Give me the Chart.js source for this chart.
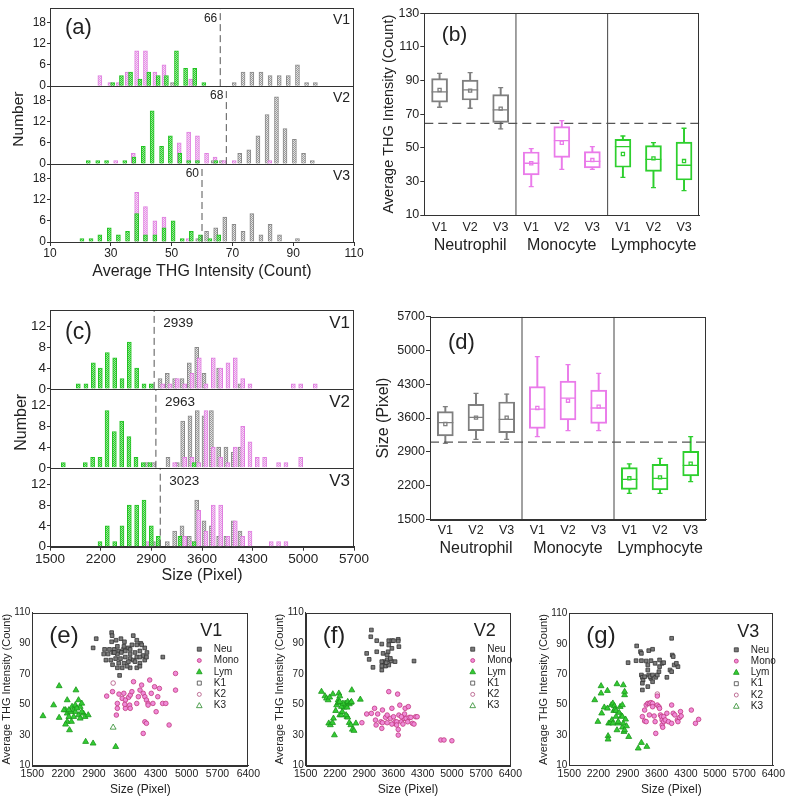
<!DOCTYPE html>
<html>
<head>
<meta charset="utf-8">
<script src="https://cdn.jsdelivr.net/npm/chart.js@4.4.1/dist/chart.umd.min.js"></script>
<style>
  body { margin: 0; background: #fff; width: 787px; height: 797px; position: relative; overflow: hidden; }
  canvas { position: absolute; }
</style>
</head>
<body>
<canvas id="ca" width="380" height="285" style="left:0;top:0"></canvas>
<canvas id="cb" width="407" height="280" style="left:380px;top:0"></canvas>
<canvas id="cc" width="380" height="300" style="left:0;top:290px"></canvas>
<canvas id="cd" width="415" height="290" style="left:372px;top:290px"></canvas>
<canvas id="ce" width="262" height="207" style="left:0;top:590px"></canvas>
<canvas id="cf" width="262" height="207" style="left:262px;top:590px"></canvas>
<canvas id="cg" width="263" height="207" style="left:524px;top:590px"></canvas>
<script>
// (a) THG histograms: [bin centre, count]
const thgV1Green = [[30.6,1],[33.5,3],[36.5,4],[39.6,2],[42.5,4],[45.6,3],[48.3,3],[51.6,10],[54.6,5],[57.6,5],[60.6,1]];
const thgV1Pink = [[26.4,3],[29.7,1],[32.5,1],[35.4,4],[38.5,10],[41.4,10],[44.5,4],[47.5,6],[56.3,2]];
const thgV1Gray = [[50.3,1],[70.6,1],[73.5,4],[76.4,4],[79.4,4],[82.4,3],[85.4,3],[88.4,3],[91.4,6],[94.4,1],[97.3,1]];
const thgV2Green = [[22.6,1],[25.7,1],[28.6,1],[34.6,1],[37.6,2],[40.7,5],[43.6,15],[46.7,5],[49.6,8],[52.7,3],[55.6,1],[58.5,1],[64.5,1]];
const thgV2Pink = [[31.6,1],[37.4,3],[52.5,6],[55.6,9],[58.5,8],[61.5,3],[64.3,2],[67.3,1],[70.6,1],[82.3,1]];
const thgV2Gray = [[63.7,1],[66.4,1],[72.4,3],[75.4,4],[78.4,8],[81.4,14],[84.5,19],[87.3,10],[90.4,7],[93.4,3],[96.3,1]];
const thgV3Green = [[20.5,1],[23.5,1],[26.4,2],[29.5,4],[32.5,2],[35.5,3],[38.5,8],[41.4,2],[44.5,2],[47.5,4],[50.5,6],[53.5,1],[56.5,3],[59.5,2],[62.6,1],[65.5,2]];
const thgV3Pink = [[38.5,14],[41.4,10],[44.5,6],[47.5,7],[55.5,1]];
const thgV3Gray = [[58.6,1],[61.5,3],[64.5,4],[67.5,7],[70.5,5],[73.5,3],[76.4,8],[79.4,2],[82.4,5],[85.5,2],[91.4,1]];
const thgCuts = [66, 68, 60];

// (c) size histograms
const sizeV1Green = [[1891,1],[1997,1],[2099,5],[2195,4],[2292,7],[2394,6],[2495,2],[2596,9],[2697,4],[2799,1],[2900,1]];
const sizeV1Pink = [[3057,1],[3158,1],[3259,2],[3361,1],[3462,3],[3563,6],[3655,1],[3756,6],[3858,4],[3959,5],[4060,6],[4162,2],[4263,1],[4862,1],[4963,1],[5165,1]];
const sizeV1Gray = [[3020,2],[3121,3],[3222,2],[3324,2],[3425,5],[3527,8],[3628,3],[3830,4],[4125,1]];
const sizeV2Green = [[1684,1],[1988,1],[2089,2],[2191,2],[2288,11],[2389,7],[2490,9],[2591,6],[2688,2],[2789,1],[2880,1],[3490,1]];
const sizeV2Pink = [[3222,1],[3361,2],[3462,2],[3554,1],[3655,11],[3756,4],[3858,2],[3959,1],[4060,4],[4162,8],[4263,5],[4364,2],[4465,2],[4658,1],[4760,1],[4963,2]];
const sizeV2Gray = [[2836,1],[2930,1],[3130,2],[3259,1],[3333,9],[3434,10],[3535,11],[3628,10],[3730,11],[3830,4],[3931,4],[4032,3],[4125,4]];
const sizeV3Green = [[2191,1],[2292,4],[2394,1],[2495,4],[2596,8],[2697,8],[2799,9],[2900,4],[2997,2],[3296,2],[3490,1]];
const sizeV3Pink = [[2845,1],[3361,2],[3462,1],[3554,7],[3655,3],[3756,8],[3858,8],[3959,2],[4060,5],[4162,2],[4263,3],[4557,1],[4658,1],[4760,1]];
const sizeV3Gray = [[2928,1],[3121,1],[3222,3],[3324,4],[3425,2],[3527,9],[3628,5],[3730,4],[3830,2],[3931,2],[4032,5],[4125,3]];
const sizeCuts = [2939, 2963, 3023];

// (b) and (d) box plots
const boxLabels = ['V1','V2','V3','V1','V2','V3','V1','V2','V3'];
const boxGroups = ['Neutrophil','Monocyte','Lymphocyte'];
const thgMin = [74.1, 73.5, 61.2, 26.9, 37.2, 37.2, 32.4, 26.3, 24.5];
const thgQ1 = [77.2, 78.4, 65.1, 33.8, 44.3, 38, 38.4, 36, 30.8];
const thgMed = [83.2, 84.4, 72.5, 40.8, 54.2, 41.9, 50.7, 43.1, 39.6];
const thgMean = [84.4, 84, 73.3, 40.8, 53, 42.7, 46.3, 43.7, 42.1];
const thgQ3 = [91.1, 90.3, 81.6, 47.5, 62.6, 47.7, 55, 51.3, 53.4];
const thgMax = [94.3, 94.7, 85.8, 49.5, 66.1, 50.7, 57, 53, 61.6];
const thgBoxCut = 64.5;
const sizeMin = [3075, 3158, 3158, 3213, 3337, 3337, 2039, 2039, 2281];
const sizeQ1 = [3227, 3337, 3296, 3386, 3559, 3489, 2122, 2108, 2398];
const sizeMed = [3503, 3614, 3572, 3786, 4014, 3807, 2329, 2350, 2619];
const sizeMean = [3476, 3607, 3607, 3807, 3959, 3835, 2350, 2370, 2654];
const sizeQ3 = [3731, 3883, 3932, 4249, 4367, 4180, 2571, 2640, 2909];
const sizeMax = [3835, 4111, 4097, 4871, 4705, 4526, 2647, 2764, 3213];
const sizeBoxCut = 3100;

// (e)-(g) scatter: [size, THG]
const neuE = [[2880,87],[2950,93],[3300,97],[3310,95],[3300,91],[3400,92],[3510,93],[3590,91],[3790,95],[3760,89],[3680,87],[3570,86],[3460,85],[3360,86],[3250,86],[3140,86],[3220,83],[3330,84],[3430,83],[3520,84],[3610,85],[3720,86],[3830,84],[3940,85],[4050,87],[3960,90],[3870,89],[4100,84],[3870,81],[3720,80],[3610,81],[3500,80],[3390,80],[3280,79],[3170,79],[3320,76],[3460,77],[3580,77],[3680,78],[3790,79],[3940,77],[3720,74],[3870,74],[3940,75],[3980,89],[3870,92],[4010,82],[3430,74],[3540,74],[3650,75],[3480,69],[3580,88],[3430,88],[3830,78],[4050,79],[4090,81],[3940,81],[3360,84],[3120,83],[3720,83],[4460,81]];
const monoE = [[3187,55.5],[3319,58.4],[3429,50.7],[3407,43.1],[3466,56.8],[3539,54],[3576,57.3],[3612,52.9],[3612,47.5],[3598,50.1],[3686,54.7],[3722,56.2],[3759,58.4],[3796,64.9],[3708,49.6],[3722,47.5],[3869,50.7],[3906,55.1],[3943,59.4],[3979,62.7],[4016,57.3],[4053,55.1],[4089,52.9],[4126,50.7],[4163,66],[4199,57.3],[4273,61.6],[4236,50.7],[4309,45.3],[4346,55.1],[4383,60.5],[4456,50.7],[4529,50.7],[4603,36.6],[4749,70.3],[4749,59.4],[4053,38.7],[4089,37.7],[4016,31.1],[3429,47.5],[4126,49.6]];
const lymE = [[1742,42.5],[1984,49.6],[2109,62.1],[2109,41.4],[2292,52.9],[2255,46.4],[2292,44.2],[2329,42],[2344,33.3],[2402,48.6],[2439,46.4],[2476,45.3],[2490,59.4],[2549,52.9],[2586,48.6],[2622,50.7],[2659,44.2],[2549,43.1],[2439,42],[2366,45.3],[2292,38.8],[2255,37],[2696,42],[2769,43.1],[2476,49.6],[2512,47.5],[2710,25.7],[2879,24.6],[3392,22.4],[2586,40.9],[2622,45.3],[2219,46.4],[2329,46.4],[2388,38.8]];
const kE = [[], [[3334,64]], [[3334,35]]];
const neuF = [[3073,98.7],[3058,94.3],[2960,83.4],[3020,79.5],[3111,74.3],[3201,84.5],[3201,91.7],[3322,89.5],[3353,83.4],[3375,78],[3413,75.1],[3451,79.1],[3474,84.5],[3489,88.9],[3489,91.7],[3564,91.7],[3602,91.7],[3564,86.7],[3549,78.4],[3489,75.8],[3322,72.5],[3322,75.1],[3428,77.3],[3716,92.6],[3731,87.8],[3640,78],[4094,78.4],[3716,91.5],[3451,82.3],[3527,80.1],[3322,78]];
const monoF = [[2846,38.1],[2960,43.8],[3073,44.2],[3149,47.5],[3171,39.8],[3186,36.6],[3224,43.8],[3300,38.7],[3322,34.4],[3338,46.4],[3413,41.6],[3451,43.1],[3489,58.4],[3527,40.9],[3564,47.5],[3602,42],[3625,37.7],[3640,38.7],[3678,38.7],[3701,56.8],[3716,33.7],[3731,43.1],[3753,49.6],[3791,38.7],[3829,37.2],[3852,40.9],[3867,43.8],[3882,47.5],[3905,40.9],[3943,38.7],[3958,48.6],[3980,41.6],[4018,41.6],[4056,37.7],[4094,37.2],[4132,42],[4169,42],[3338,38.1],[3451,38.1],[3564,37.2],[3678,36.6],[3791,42],[4736,26.8],[4812,26.8],[5001,26.3],[3716,30]];
const lymF = [[1878,58.4],[1961,55.5],[1999,54],[2037,52.9],[2075,54.7],[2150,56.8],[2052,37.7],[2090,36.6],[2143,38.1],[2165,40.9],[2188,30],[2218,45.9],[2241,49.6],[2279,52.9],[2294,57.3],[2317,55.5],[2317,43.1],[2355,43.1],[2377,45.3],[2415,48.1],[2279,51.2],[2355,48.6],[2445,50.7],[2468,49.6],[2491,48.1],[2506,51.8],[2544,50.3],[2581,51.2],[2596,51.8],[2491,42],[2506,41.6],[2544,38.1],[2581,36.6],[2619,33.7],[2657,32.9],[2604,59.4],[2808,53.3],[2702,37.7],[2468,43.1],[2392,50.7],[2317,51.8]];
const kF = [[], [], []];
const neuG = [[2912,77.6],[3118,88.6],[3210,84.8],[3232,83.7],[3347,78.7],[3408,85.5],[3500,86.4],[3461,78.9],[3232,78.9],[3232,69.5],[3255,68],[3271,66.2],[3255,64.1],[3255,59.7],[3461,67.3],[3500,65.1],[3385,72.8],[3408,69.5],[3439,68.4],[3500,69.5],[3576,68],[3614,69.5],[3652,71.7],[3668,75],[3729,77.2],[3767,77.6],[3843,68],[3919,72.8],[3958,71.7],[3973,82.6],[3996,81.6],[4019,76.1],[3958,93.6],[4110,75],[4072,77.2],[3385,76.1],[3561,77.2],[3668,79.4],[3309,68.4],[3103,78.9],[3385,61.9]];
const monoG = [[3255,42.2],[3309,46.5],[3347,49.8],[3385,50.9],[3423,50.9],[3461,51.4],[3500,50.9],[3538,42.6],[3561,38.9],[3576,31.2],[3614,55.7],[3614,49.8],[3652,48.7],[3668,47.6],[3690,43.3],[3713,42.2],[3729,40],[3729,36.7],[3767,38.9],[3767,42.2],[3805,40],[3843,44.4],[3881,38.9],[3958,37.8],[3958,49.8],[3996,44.4],[4034,43.3],[4095,40],[4110,38.9],[4148,41.6],[4171,45.5],[4187,42.6],[3309,39.3],[3347,38.9],[4431,46.5],[4530,37.8],[4606,40.4],[3744,35.2],[3423,43.3],[3500,48.7]];
const lymG = [[2111,53.1],[2187,38.9],[2263,62.3],[2263,57.5],[2278,44.4],[2340,48.3],[2416,59.2],[2416,47.6],[2431,29.5],[2431,27.3],[2446,37.8],[2492,38.2],[2507,49.8],[2523,40],[2546,50.9],[2568,46.1],[2584,49.2],[2599,47],[2622,46.1],[2645,63.6],[2645,33.4],[2660,37.8],[2675,38.9],[2698,44.8],[2721,48.7],[2752,42.6],[2775,35.2],[2775,42.2],[2775,49.8],[2797,37.8],[2813,32.3],[2828,56.4],[2828,58.6],[2797,62.9],[2828,33.4],[2851,40.4],[2874,36],[2927,29],[3156,21.4],[3232,25.1],[3362,22.5],[2546,37.8],[2622,42.2]];
const kG = [[], [[3614,57]], []];

const FONT = '"Liberation Sans", Arial, sans-serif';
Chart.defaults.font.family = FONT;
Chart.defaults.color = '#222';
const AXIS = '#333';
const GRAY = '#7f7f7f', PINK = '#ea7bea', GREEN = '#2ecf2e';
const boxColors = [GRAY, GRAY, GRAY, PINK, PINK, PINK, GREEN, GREEN, GREEN];
const plain = v => String(v);

function dotted(ctx, base, dot) {
  const t = document.createElement('canvas');
  t.width = 2; t.height = 2;
  const g = t.getContext('2d');
  g.fillStyle = base; g.fillRect(0, 0, 2, 2);
  g.fillStyle = dot; g.fillRect(0, 0, 1, 1); g.fillRect(1, 1, 1, 1);
  return ctx.createPattern(t, 'repeat');
}

// rectangle round each y scale (one per stacked row)
const framePlugin = {
  id: 'frame',
  afterDatasetsDraw(chart) {
    const { ctx, chartArea: a, scales } = chart;
    ctx.save();
    ctx.strokeStyle = AXIS;
    ctx.lineWidth = 1;
    Object.values(scales).forEach(s => {
      if (s.axis === 'y') ctx.strokeRect(Math.round(a.left) + 0.5, Math.round(s.top) + 0.5, Math.round(a.width) - 1, Math.round(s.height));
    });
    ctx.restore();
  }
};

function textPlugin(items) {
  return {
    id: 'texts',
    afterDraw(chart) {
      const ctx = chart.ctx;
      items.forEach(t => {
        ctx.save();
        ctx.font = t.font + ' ' + FONT;
        ctx.fillStyle = t.color || '#222';
        ctx.textAlign = t.align || 'left';
        ctx.textBaseline = 'middle';
        ctx.translate(t.x(chart), t.y(chart));
        if (t.rot) ctx.rotate(t.rot);
        ctx.fillText(t.text, 0, 0);
        ctx.restore();
      });
    }
  };
}

const xy = pairs => pairs.map(p => ({ x: p[0], y: p[1] }));

function histChart(cfg) {
  const el = document.getElementById(cfg.id);
  const ctx = el.getContext('2d');
  const fills = {
    green: dotted(ctx, '#9ae89a', '#2ecc2e'),
    pink: dotted(ctx, '#f7d7f7', '#e493e4'),
    gray: dotted(ctx, '#e4e4e4', '#9a9a9a')
  };
  const strokes = { green: '#22c322', pink: '#e080e0', gray: '#8a8a8a' };
  const scales = {
    x: {
      type: 'linear', min: cfg.xMin, max: cfg.xMax, offset: false,
      ticks: { stepSize: cfg.xStep, font: { size: cfg.tick }, padding: 0, maxRotation: 0, autoSkip: false, callback: plain },
      grid: { display: true, drawOnChartArea: false, offset: false, tickLength: 4, color: AXIS },
      border: { color: AXIS },
      title: { display: true, text: cfg.xTitle, font: { size: 16 }, padding: { top: 0, bottom: cfg.titlePad } },
      afterFit: s => { s.height = cfg.xH; }
    }
  };
  const datasets = [];
  const items = [];
  cfg.rows.forEach((row, i) => {
    const yid = 'y' + i;
    scales[yid] = {
      type: 'linear', position: 'left', stack: 'rows', stackWeight: 1, weight: 3 - i,
      min: 0, max: cfg.yMax,
      ticks: { stepSize: cfg.yStep, includeBounds: false, autoSkip: false, font: { size: cfg.tick }, padding: 1, callback: plain },
      grid: { display: true, drawOnChartArea: false, tickLength: 3, color: AXIS },
      border: { color: AXIS },
      afterFit: s => { s.width = cfg.yW; }
    };
    datasets.push({ type: 'line', data: [{ x: row.cut, y: 0 }, { x: row.cut, y: cfg.yMax }], yAxisID: yid,
      borderColor: '#555', borderWidth: 1, borderDash: [7, 4], pointRadius: 0 });
    ['green', 'pink', 'gray'].forEach(k => {
      datasets.push({ type: 'bar', data: xy(row[k]), yAxisID: yid, backgroundColor: fills[k], borderColor: strokes[k],
        borderWidth: 1, barThickness: 4, grouped: false });
    });
    items.push({ text: row.tag, font: cfg.vFont, align: 'right',
      x: c => c.chartArea.right - 4, y: c => c.scales[yid].top + cfg.vDy });
    items.push({ text: String(row.cut), font: cfg.cutFont, align: cfg.cutAlign,
      x: c => c.scales.x.getPixelForValue(row.cut) + cfg.cutDx, y: c => c.scales[yid].top + cfg.cutDy });
  });
  items.push({ text: cfg.panel, font: cfg.panelFont, x: c => c.chartArea.left + cfg.panelDx, y: c => c.chartArea.top + cfg.panelDy });
  items.push({ text: 'Number', font: cfg.numFont, align: 'center', rot: -Math.PI / 2,
    x: () => cfg.numX, y: c => (c.chartArea.top + c.chartArea.bottom) / 2 - 6 });
  new Chart(el, {
    type: 'bar',
    data: { datasets },
    options: {
      responsive: false, animation: false, events: [],
      layout: { padding: { left: 0, top: cfg.top, right: cfg.right, bottom: 0 } },
      plugins: { legend: { display: false }, tooltip: { enabled: false } },
      scales
    },
    plugins: [framePlugin, textPlugin(items)]
  });
}

function boxChart(cfg) {
  const el = document.getElementById(cfg.id);
  const span = (a, b) => a.map((v, i) => [v, b[i]]);
  const marks = (data, style, r, fill) => ({
    type: 'line', data, showLine: false, pointStyle: style, pointRadius: r,
    pointBorderColor: boxColors, pointBackgroundColor: fill || 'rgba(0,0,0,0)', pointBorderWidth: 1.3
  });
  const datasets = [
    { type: 'line', xAxisID: 'x2', data: [{ x: 0, y: cfg.cut }, { x: 9, y: cfg.cut }], borderColor: '#555', borderWidth: 1.2, borderDash: [9, 5], pointRadius: 0 },
    { type: 'line', xAxisID: 'x2', data: [{ x: 3, y: cfg.yMin }, { x: 3, y: cfg.yMax }], borderColor: '#444', borderWidth: 1, pointRadius: 0 },
    { type: 'line', xAxisID: 'x2', data: [{ x: 6, y: cfg.yMin }, { x: 6, y: cfg.yMax }], borderColor: '#444', borderWidth: 1, pointRadius: 0 },
    marks(cfg.med, 'line', 8),
    marks(cfg.mean, 'rect', 2.2, '#fff'),
    marks(cfg.lo, 'line', 2.5),
    marks(cfg.hi, 'line', 2.5),
    { type: 'bar', data: span(cfg.q1, cfg.q3), backgroundColor: 'rgba(0,0,0,0)', borderColor: boxColors, borderWidth: 1.3, borderSkipped: false, barThickness: 16, grouped: false },
    { type: 'bar', data: span(cfg.lo, cfg.q1), backgroundColor: boxColors, borderWidth: 0, barThickness: 1.3, grouped: false },
    { type: 'bar', data: span(cfg.q3, cfg.hi), backgroundColor: boxColors, borderWidth: 0, barThickness: 1.3, grouped: false }
  ];
  const items = boxGroups.map((g, i) => ({
    text: g, font: '16px', align: 'center',
    x: c => c.scales.x.getPixelForValue(i * 3 + 1), y: c => c.chartArea.bottom + cfg.groupDy
  }));
  items.push({ text: cfg.panel, font: cfg.panelFont, x: c => c.chartArea.left + cfg.panelDx, y: c => c.chartArea.top + cfg.panelDy });
  new Chart(el, {
    type: 'bar',
    data: { labels: boxLabels, datasets },
    options: {
      responsive: false, animation: false, events: [],
      layout: { padding: { left: 0, top: cfg.top, right: cfg.right, bottom: 0 } },
      plugins: { legend: { display: false }, tooltip: { enabled: false } },
      scales: {
        x: {
          type: 'category', offset: true,
          ticks: { font: { size: 12.5 }, padding: cfg.tickPad, maxRotation: 0, autoSkip: false },
          grid: { display: false, drawTicks: false },
          border: { color: AXIS },
          afterFit: s => { s.height = cfg.xH; }
        },
        // invisible helper axis spanning the plot, used for the cut line and group separators
        x2: {
          type: 'linear', position: 'bottom', min: 0, max: 9, offset: false,
          ticks: { display: false }, grid: { display: false, drawTicks: false }, border: { display: false },
          afterFit: s => { s.height = 0; }
        },
        y: {
          min: cfg.yMin, max: cfg.yMax,
          ticks: { stepSize: cfg.yStep, font: { size: 12.5 }, padding: 1, autoSkip: false, callback: plain },
          grid: { display: true, drawOnChartArea: false, tickLength: 4, color: AXIS },
          border: { color: AXIS },
          title: { display: true, text: cfg.yTitle, font: { size: cfg.yTitleSize }, padding: { top: cfg.yTitlePad, bottom: 0 } },
          afterFit: s => { s.width = cfg.yW; }
        }
      }
    },
    plugins: [framePlugin, textPlugin(items)]
  });
}

function drawSym(ctx, style, x, y, r, fill, stroke) {
  ctx.beginPath();
  if (style === 'rect') ctx.rect(x - r, y - r, 2 * r, 2 * r);
  else if (style === 'circle') ctx.arc(x, y, r, 0, Math.PI * 2);
  else { ctx.moveTo(x, y - r * 1.1); ctx.lineTo(x + r, y + r * 0.7); ctx.lineTo(x - r, y + r * 0.7); ctx.closePath(); }
  if (fill) { ctx.fillStyle = fill; ctx.fill(); }
  ctx.strokeStyle = stroke; ctx.lineWidth = 0.8; ctx.stroke();
}

function scatterChart(cfg) {
  const el = document.getElementById(cfg.id);
  const styles = [
    { label: 'Neu', style: 'rect', r: 2.6, fill: '#7a7a7a', stroke: '#333' },
    { label: 'Mono', style: 'circle', r: 2.3, fill: '#f08ad8', stroke: '#c0397f' },
    { label: 'Lym', style: 'triangle', r: 3.4, fill: '#33cc33', stroke: '#1b961b' },
    { label: 'K1', style: 'rect', r: 2.6, fill: null, stroke: '#444' },
    { label: 'K2', style: 'circle', r: 2.3, fill: null, stroke: '#b0507f' },
    { label: 'K3', style: 'triangle', r: 3.4, fill: null, stroke: '#2a8a2a' }
  ];
  const sets = [cfg.neu, cfg.mono, cfg.lym].concat(cfg.k);
  const datasets = sets.map((d, i) => ({
    label: styles[i].label, data: xy(d), pointStyle: styles[i].style, pointRadius: styles[i].r,
    pointBackgroundColor: styles[i].fill || 'rgba(0,0,0,0)', pointBorderColor: styles[i].stroke, pointBorderWidth: 0.8
  }));
  const legend = {
    id: 'symLegend',
    afterDraw(chart) {
      const ctx = chart.ctx, a = chart.chartArea;
      styles.forEach((s, i) => {
        const y = a.top + 36.5 + i * 11.3;
        ctx.save();
        drawSym(ctx, s.style, a.left + 167, y, s.style === 'triangle' ? 2.8 : 2, s.fill, s.stroke);
        ctx.font = '10px ' + FONT; ctx.fillStyle = '#222'; ctx.textBaseline = 'middle';
        ctx.fillText(s.label, a.left + 181.5, y);
        ctx.restore();
      });
    }
  };
  const items = [
    { text: cfg.panel, font: '24px', x: c => c.chartArea.left + 17, y: c => c.chartArea.top + 23.5 },
    { text: cfg.tag, font: '18px', x: c => c.chartArea.left + 168, y: c => c.chartArea.top + 18.5 }
  ];
  new Chart(el, {
    type: 'scatter',
    data: { datasets },
    options: {
      responsive: false, animation: false, events: [],
      layout: { padding: { left: cfg.left, top: cfg.top, right: cfg.right, bottom: 0 } },
      plugins: { legend: { display: false }, tooltip: { enabled: false } },
      scales: {
        x: {
          type: 'linear', min: 1500, max: 6400,
          ticks: { stepSize: 700, font: { size: 10.5 }, padding: 2, maxRotation: 0, autoSkip: false, callback: plain },
          grid: { display: false, drawTicks: false },
          border: { color: AXIS },
          title: { display: true, text: 'Size (Pixel)', font: { size: 12 }, padding: 0 },
          afterFit: s => { s.height = 31.3; }
        },
        y: {
          min: 10, max: 110,
          ticks: { stepSize: 20, font: { size: 10 }, padding: 2, autoSkip: false, callback: plain },
          grid: { display: false, drawTicks: false },
          border: { color: AXIS },
          title: { display: true, text: 'Average THG Intensity (Count)', font: { size: 11 }, padding: 0 },
          afterFit: s => { s.width = 32.3; }
        }
      }
    },
    plugins: [framePlugin, legend, textPlugin(items)]
  });
}

histChart({
  id: 'ca', xMin: 10, xMax: 110, xStep: 20, yMax: 22, yStep: 6, tick: 12,
  xTitle: 'Average THG Intensity (Count)', titlePad: 4, xH: 43, yW: 50, top: 5, right: 26,
  rows: [
    { tag: 'V1', cut: thgCuts[0], green: thgV1Green, pink: thgV1Pink, gray: thgV1Gray },
    { tag: 'V2', cut: thgCuts[1], green: thgV2Green, pink: thgV2Pink, gray: thgV2Gray },
    { tag: 'V3', cut: thgCuts[2], green: thgV3Green, pink: thgV3Pink, gray: thgV3Gray }
  ],
  vFont: '14px', vDy: 12, cutFont: '12px', cutAlign: 'right', cutDx: -3, cutDy: 10,
  panel: '(a)', panelFont: '22px', panelDx: 15, panelDy: 20, numFont: '15.5px', numX: 19
});

histChart({
  id: 'cc', xMin: 1500, xMax: 5700, xStep: 700, yMax: 15.2, yStep: 4, tick: 13.5,
  xTitle: 'Size (Pixel)', titlePad: 5, xH: 43.3, yW: 50, top: 20, right: 26,
  rows: [
    { tag: 'V1', cut: sizeCuts[0], green: sizeV1Green, pink: sizeV1Pink, gray: sizeV1Gray },
    { tag: 'V2', cut: sizeCuts[1], green: sizeV2Green, pink: sizeV2Pink, gray: sizeV2Gray },
    { tag: 'V3', cut: sizeCuts[2], green: sizeV3Green, pink: sizeV3Pink, gray: sizeV3Gray }
  ],
  vFont: '17px', vDy: 13.5, cutFont: '13.5px', cutAlign: 'left', cutDx: 9, cutDy: 13,
  panel: '(c)', panelFont: '23px', panelDx: 15, panelDy: 23, numFont: '16px', numX: 22
});

boxChart({
  id: 'cb', yMin: 10, yMax: 130, yStep: 20, cut: thgBoxCut,
  lo: thgMin, q1: thgQ1, med: thgMed, mean: thgMean, q3: thgQ3, hi: thgMax,
  yTitle: 'Average THG Intensity (Count)', yTitleSize: 14.5, yTitlePad: 0, yW: 44.3,
  top: 13.3, right: 87.7, xH: 65, tickPad: 5, groupDy: 31,
  panel: '(b)', panelFont: '21px', panelDx: 17.4, panelDy: 22
});

boxChart({
  id: 'cd', yMin: 1500, yMax: 5700, yStep: 700, cut: sizeBoxCut,
  lo: sizeMin, q1: sizeQ1, med: sizeMed, mean: sizeMean, q3: sizeQ3, hi: sizeMax,
  yTitle: 'Size (Pixel)', yTitleSize: 16, yTitlePad: 2.4, yW: 58,
  top: 26.7, right: 81, xH: 60.7, tickPad: 3.5, groupDy: 29,
  panel: '(d)', panelFont: '22px', panelDx: 18, panelDy: 26.6
});

scatterChart({ id: 'ce', neu: neuE, mono: monoE, lym: lymE, k: kE, tag: 'V1', panel: '(e)', left: 0, top: 22.7, right: 7 });
scatterChart({ id: 'cf', neu: neuF, mono: monoF, lym: lymF, k: kF, tag: 'V2', panel: '(f)', left: 11.4, top: 22.7, right: 2.3 });
scatterChart({ id: 'cg', neu: neuG, mono: monoG, lym: lymG, k: kG, tag: 'V3', panel: '(g)', left: 13, top: 23.3, right: 4 });
</script>
</body>
</html>
